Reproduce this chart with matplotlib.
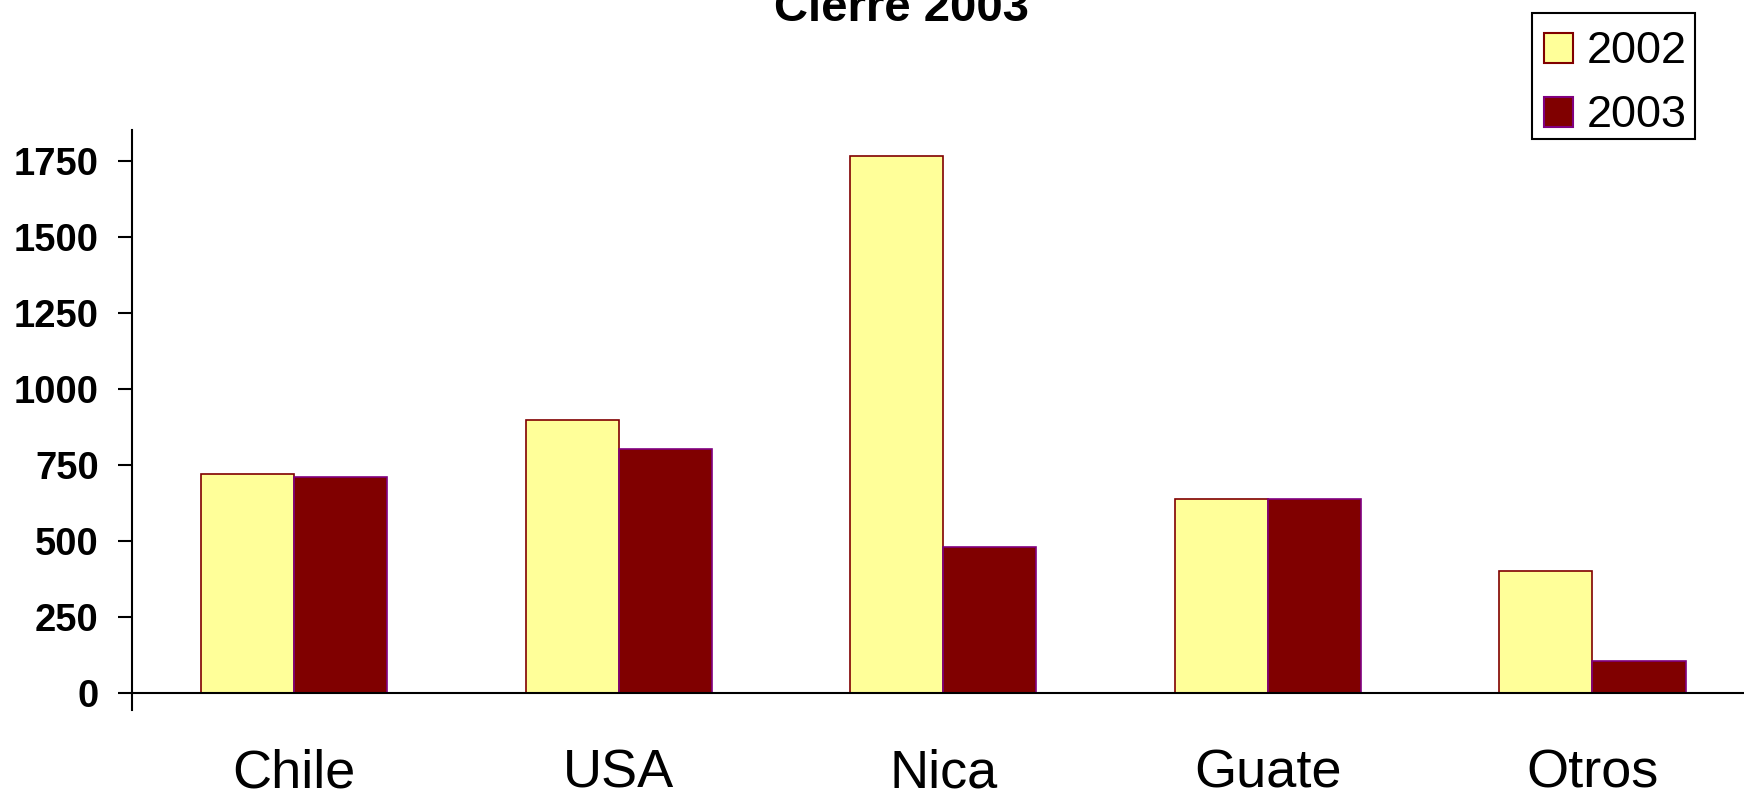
import matplotlib
matplotlib.use("Agg")
import matplotlib.pyplot as plt
from matplotlib.patches import Rectangle
import numpy as np

categories = ["Chile", "USA", "Nica", "Guate", "Otros"]
values_2002 = [721, 898, 1766, 638, 402]
values_2003 = [710, 803, 480, 638, 104]
series_labels = ["2002", "2003"]
yticks = [0, 250, 500, 750, 1000, 1250, 1500, 1750]
title = "Cierre 2003"

plt.rcParams['font.family'] = ['Liberation Sans', 'DejaVu Sans']

W, H = 1744, 793
fig = plt.figure(figsize=(W/100, H/100), dpi=100)
ax = fig.add_axes([132/W, 1-709.5/H, 1-132/W, (709.5-130.4)/H])

x = np.arange(len(categories))
w = 0.287
fills = ["#FFFF99", "#800000"]
edges = ["#800000", "#800080"]
b1 = ax.bar(x - w/2, values_2002, width=w, color=fills[0], edgecolor=edges[0], linewidth=1.2, label=series_labels[0])
b2 = ax.bar(x + w/2, values_2003, width=w, color=fills[1], edgecolor=edges[1], linewidth=1.2, label=series_labels[1])

ax.set_xlim(-0.5, 4.467)
ax.set_ylim(-55, 1850)
ax.spines['top'].set_visible(False)
ax.spines['right'].set_visible(False)
ax.spines['bottom'].set_position(('data', 0))
ax.spines['bottom'].set_linewidth(1.5)
ax.spines['left'].set_linewidth(1.5)
ax.spines['left'].set_bounds(-55, 1850)

ax.set_yticks(yticks)
ax.set_yticklabels([str(v) for v in yticks], fontsize=27.5, fontweight='bold')
ax.tick_params(axis='y', length=10, width=1.5, pad=14, direction='out')
ax.set_xticks(x)
ax.set_xticklabels(categories, fontsize=39)
ax.tick_params(axis='x', length=0, pad=40)

fig.text(901/W, 1-21/H, title, fontsize=34, fontweight='bold', ha='center', va='baseline')

# legend drawn as a framed box in figure pixel coordinates
def fx(px):
    return px / W

def fy(py):
    return 1 - py / H

frame = Rectangle((fx(1532), fy(139)), fx(1695) - fx(1532), fy(13) - fy(139),
                  transform=fig.transFigure, facecolor='white', edgecolor='black', linewidth=1.5)
fig.add_artist(frame)
for i, lab in enumerate(series_labels):
    top = 33 + 64 * i
    h = Rectangle((fx(1544), fy(top + 30)), fx(1573) - fx(1544), fy(top) - fy(top + 30),
                  transform=fig.transFigure, facecolor=fills[i], edgecolor=edges[i], linewidth=1.5)
    fig.add_artist(h)
    fig.text(fx(1587), fy(top + 30), lab, fontsize=32.5, ha='left', va='baseline')

fig.savefig("out.png", dpi=100)
